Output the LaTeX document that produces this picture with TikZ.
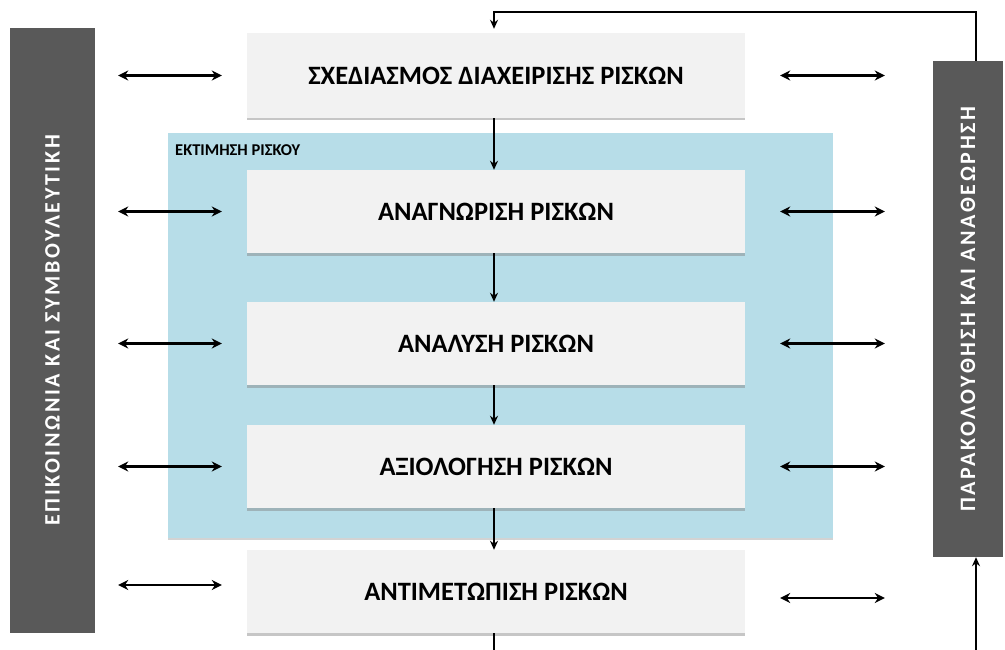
\documentclass[tikz,border=0pt]{standalone}
\usepackage{fontspec}
\setmainfont{Carlito}
\newfontfamily\barfont[LetterSpace=12]{Carlito}
\usetikzlibrary{arrows.meta,shadows}
\definecolor{boxgray}{HTML}{F2F2F2}
\definecolor{bargray}{HTML}{595959}
\definecolor{lblue}{HTML}{B7DDE8}
\tikzset{
  stagebox/.style={fill=boxgray, minimum width=498pt, inner sep=0pt,
    font=\bfseries\fontsize{26.5}{30}\selectfont,
    drop shadow={shadow xshift=0pt, shadow yshift=-2.5pt, opacity=0.45, fill=gray}},
  sidebar/.style={fill=bargray, inner sep=0pt},
  bartext/.style={rotate=90, text=white, font=\barfont\bfseries\fontsize{22}{26}\selectfont},
  dar/.style={{Stealth[length=10pt,width=10pt]}-{Stealth[length=10pt,width=10pt]}, line width=2.4pt},
  dn/.style={-{Stealth[length=9pt,width=8pt]}, line width=1.6pt},
}
\begin{document}
\begin{tikzpicture}[x=1pt,y=-1pt]
\useasboundingbox (0,0) rectangle (1005,650);
% blue assessment area
\node[fill=lblue, minimum width=665pt, minimum height=405pt, inner sep=0pt,
  drop shadow={shadow xshift=0pt, shadow yshift=-2pt, opacity=0.35, fill=gray}] (assess) at (500.5,335.5) {};
\node[anchor=north west, font=\bfseries\fontsize{16.5}{19}\selectfont, inner sep=0pt] (assesslbl) at (175,144) {ΕΚΤΙΜΗΣΗ ΡΙΣΚΟΥ};
% side bars
\node[sidebar, minimum width=85pt, minimum height=605pt] (lbar) at (52.5,330.5) {};
\node[bartext] (lbartext) at (lbar.center) {ΕΠΙΚΟΙΝΩΝΙΑ ΚΑΙ ΣΥΜΒΟΥΛΕΥΤΙΚΗ};
\node[sidebar, minimum width=70pt, minimum height=496pt] (rbar) at (968,309) {};
\node[bartext] (rbartext) at (rbar.center) {ΠΑΡΑΚΟΛΟΥΘΗΣΗ ΚΑΙ ΑΝΑΘΕΩΡΗΣΗ};
% stages
\node[stagebox, minimum height=85pt] (plan) at (496,75.5) {ΣΧΕΔΙΑΣΜΟΣ ΔΙΑΧΕΙΡΙΣΗΣ ΡΙΣΚΩΝ};
\node[stagebox, minimum height=83pt] (ident) at (496,211.5) {ΑΝΑΓΝΩΡΙΣΗ ΡΙΣΚΩΝ};
\node[stagebox, minimum height=83pt] (anal) at (496,343.5) {ΑΝΑΛΥΣΗ ΡΙΣΚΩΝ};
\node[stagebox, minimum height=83pt] (eval) at (496,466.5) {ΑΞΙΟΛΟΓΗΣΗ ΡΙΣΚΩΝ};
\node[stagebox, minimum height=83pt] (treat) at (496,591.5) {ΑΝΤΙΜΕΤΩΠΙΣΗ ΡΙΣΚΩΝ};
% vertical flow
\draw[dn] ([xshift=-2pt]plan.south) -- ([xshift=-2pt]ident.north);
\draw[dn] ([xshift=-2pt]ident.south) -- ([xshift=-2pt]anal.north);
\draw[dn] ([xshift=-2pt]anal.south) -- ([xshift=-2pt]eval.north);
\draw[dn] ([xshift=-2pt]eval.south) -- ([xshift=-2pt]treat.north);
\coordinate (botout) at (494,650);
\draw[line width=1.6pt] ([xshift=-2pt]treat.south) -- (botout);
% feedback loop
\coordinate (fbtop) at (976,12);
\coordinate (fbbot) at (976,650);
\draw[dn, line width=2pt] (rbar.north -| fbtop) -- (fbtop) -| ([xshift=-2pt,yshift=4pt]plan.north);
\draw[dn, line width=2pt] (fbbot) -- (rbar.south -| fbbot);
% double arrows
\foreach \n in {plan,ident,anal,eval}{
  \draw[dar] ([xshift=23pt]lbar.east |- \n.west) -- ([xshift=-25pt]\n.west);
  \draw[dar] ([xshift=35pt]\n.east) -- ([xshift=-48pt]rbar.west |- \n.east);
}
\draw[dar] ([xshift=23pt,yshift=6.5pt]lbar.east |- treat.west) -- ([xshift=-25pt,yshift=6.5pt]treat.west);
\draw[dar] ([xshift=35pt,yshift=-6.5pt]treat.east) -- ([xshift=-48pt,yshift=-6.5pt]rbar.west |- treat.east);
\end{tikzpicture}
\end{document}
